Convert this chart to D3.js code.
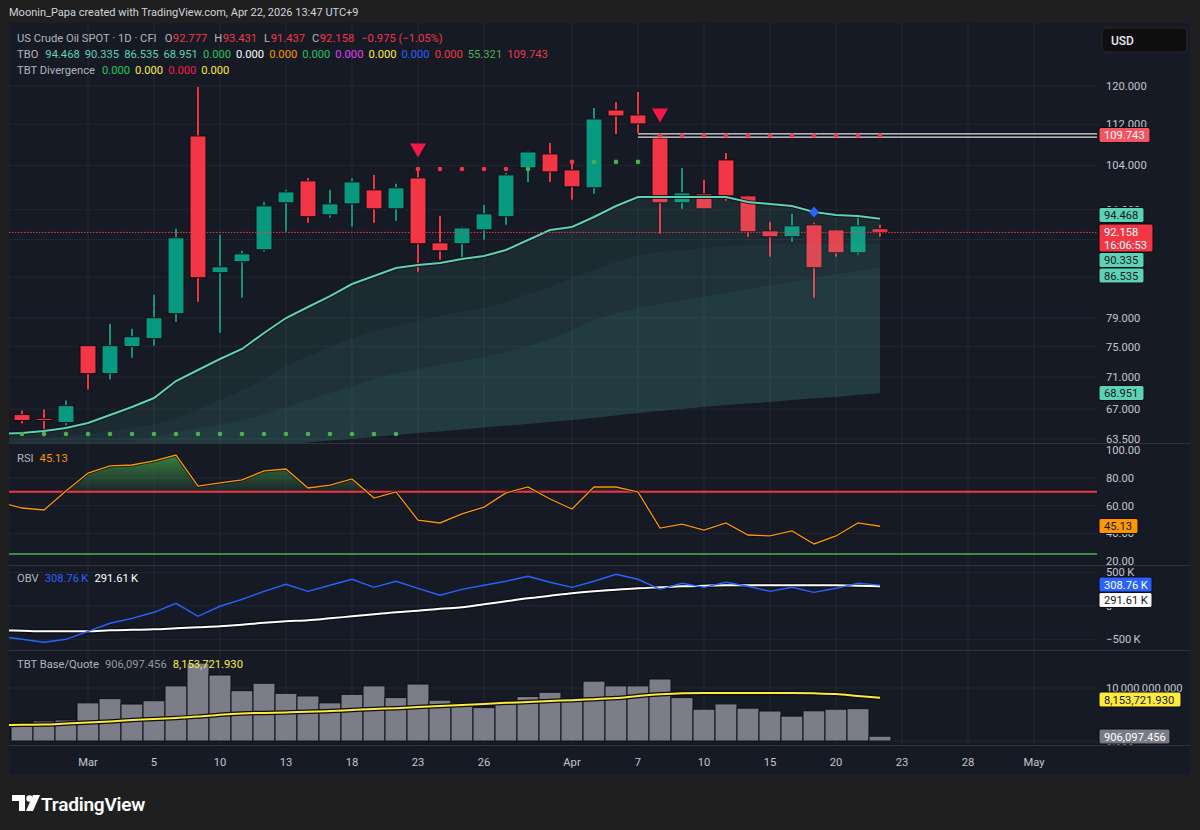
<!DOCTYPE html>
<html><head><meta charset="utf-8">
<script src="https://cdn.jsdelivr.net/npm/d3@7"></script>
<style>html,body{margin:0;padding:0;background:#1f1f1f;}svg{display:block}</style>
</head><body>
<svg id="c" width="1200" height="830"></svg>
<script>
// ---------------- DATA ----------------
const dates = ["2026-02-24","2026-02-25","2026-02-26","2026-02-27","2026-03-02","2026-03-03","2026-03-04","2026-03-05","2026-03-06",
"2026-03-09","2026-03-10","2026-03-11","2026-03-12","2026-03-13","2026-03-16","2026-03-17","2026-03-18","2026-03-19","2026-03-20",
"2026-03-23","2026-03-24","2026-03-25","2026-03-26","2026-03-27","2026-03-30","2026-03-31","2026-04-01","2026-04-02",
"2026-04-06","2026-04-07","2026-04-08","2026-04-09","2026-04-10","2026-04-13","2026-04-14","2026-04-15","2026-04-16","2026-04-17",
"2026-04-20","2026-04-21","2026-04-22"];
const futureDates = ["2026-04-23","2026-04-24","2026-04-27","2026-04-28","2026-04-29","2026-04-30","2026-05-01","2026-05-04","2026-05-05","2026-05-06"];

const openP  = [null,66.36,65.88,65.41,75.14,71.44,75.00,76.09,79.60,109.67,85.69,87.41,89.31,97.21,101.14,95.13,97.03,99.51,96.16,101.68,90.45,90.29,92.59,94.79,103.53,106.17,103.15,99.87,114.93,113.90,109.87,97.21,98.80,105.03,98.44,92.42,91.44,93.43,92.59,88.83,92.777];
const highP  = [null,66.84,66.96,68.05,75.20,78.18,77.47,82.37,92.76,119.78,91.76,89.15,97.38,99.51,101.68,99.51,101.68,102.23,100.59,103.53,94.96,93.09,96.86,102.60,106.74,108.30,104.65,115.34,116.60,118.71,110.26,103.53,101.32,106.36,98.60,93.94,95.30,93.77,92.70,95.13,93.431];
const lowP   = [null,65.29,63.78,65.06,69.42,70.68,73.53,75.14,78.46,81.34,76.91,81.92,88.99,92.26,93.77,94.62,93.09,93.77,94.11,85.85,87.73,88.04,90.94,93.43,100.95,100.95,97.73,98.80,110.06,110.26,91.93,96.16,96.16,97.56,91.44,88.20,90.62,81.92,88.20,88.52,91.437];
const closeP = [null,65.65,65.65,67.44,71.44,75.14,76.36,79.02,91.27,84.92,86.62,88.67,96.68,99.15,94.79,97.03,100.95,96.16,99.87,90.29,89.15,92.92,95.30,102.23,106.55,102.78,100.05,113.08,113.69,112.07,97.21,98.97,96.16,98.44,92.26,91.44,93.26,86.47,88.83,93.26,92.158];

const tboFast = [64.07,64.19,64.42,64.77,65.36,66.31,67.27,68.37,70.50,71.91,73.35,74.69,76.87,78.98,80.56,82.17,83.97,85.19,86.43,86.90,87.22,87.85,88.32,89.28,90.91,92.56,93.06,94.76,96.65,98.23,98.23,98.23,98.23,98.23,97.35,97.00,96.65,95.62,95.10,94.93,94.468];
const tboMid  = [63.39,63.50,63.61,63.84,64.07,64.42,64.77,65.24,65.95,66.91,68.13,69.37,70.75,72.43,73.75,74.96,76.18,77.15,77.85,78.56,79.26,79.84,80.42,81.29,82.47,83.52,84.88,86.12,87.37,88.48,88.96,89.28,89.61,89.93,90.09,90.17,90.25,90.25,90.33,90.33,90.335];
const tboSlow = [60.25,60.48,60.92,61.47,62.03,62.59,63.16,63.73,64.31,64.77,65.12,65.71,66.43,67.27,68.13,68.99,69.87,70.75,71.52,72.04,72.56,73.09,73.62,74.29,75.09,76.05,77.29,78.70,79.70,80.42,81.00,81.59,82.03,82.62,83.22,83.82,84.28,84.88,85.50,85.97,86.535];
const tboBase = [60.16,60.37,60.59,60.81,61.03,61.25,61.47,61.69,61.92,62.14,62.36,62.53,62.70,62.87,63.10,63.33,63.50,63.73,63.96,64.19,64.36,64.60,64.83,65.06,65.24,65.48,65.71,65.95,66.25,66.55,66.79,67.03,67.27,67.51,67.70,67.88,68.13,68.31,68.49,68.74,68.951];

const stopLevel = [null,64.07,64.07,64.07,64.07,64.07,64.07,64.07,64.07,64.07,64.07,64.07,64.07,64.07,64.07,64.07,64.07,64.07,64.07,
103.33,103.33,103.33,103.33,103.33,103.33,103.33,104.65,104.65,104.65,104.65,109.743,109.743,109.743,109.743,109.743,109.743,109.743,109.743,109.743,109.743,109.743];
const stopSide = [null,"L","L","L","L","L","L","L","L","L","L","L","L","L","L","L","L","L","L",
"S","S","S","S","S","L","S","S","L","L","L","S","S","S","S","S","S","S","S","S","S","S"];
const sellSignalDates = ["2026-03-23","2026-04-08"];
const diamondDates = ["2026-04-17"];
const resistanceLevel = 109.743;
const resistanceStart = "2026-04-07";

const rsi = [62.4,58.3,56.9,70.6,83.6,88.7,89.4,92.3,96.6,74.2,76.4,78.6,85.1,86.5,72.8,74.9,79.3,65.5,69.9,49.6,47.5,54.0,59.0,69.2,73.5,64.8,57.6,73.5,73.5,69.9,43.8,46.7,42.4,47.5,38.8,38.1,41.7,32.3,38.1,47.5,45.13];
const rsiUpper = 70, rsiLower = 25;

const obvK   = [-455,-500,-545,-500,-381,-261,-187,-97,37,-157,-7,97,216,321,216,306,396,276,366,261,157,246,306,366,440,351,276,366,470,396,246,336,276,351,291,216,276,201,261,336,308.76];
const obvMAK = [-366,-373,-381,-381,-381,-366,-358,-351,-336,-321,-306,-284,-254,-231,-216,-187,-157,-127,-97,-75,-45,-22,22,67,112,149,187,216,239,261,276,291,299,306,306,306,306,306,306,299,291.61];

const volumeM   = [null,3.45,3.77,3.96,7.2,8.0,6.98,7.6,10.4,14.7,12.45,9.5,10.9,9.0,8.5,7.2,8.8,10.4,8.2,10.75,7.7,7.3,6.3,7.4,8.4,9.2,7.9,11.3,10.4,10.4,11.7,8.2,6.0,7.0,6.2,5.66,4.7,5.7,6.0,6.1,0.906097456];
const volumeMAM = [3.0,3.05,3.1,3.3,3.5,3.7,3.96,4.15,4.34,4.6,4.96,5.2,5.3,5.4,5.5,5.66,5.85,6.04,6.2,6.4,6.6,6.8,7.0,7.2,7.36,7.55,7.7,7.9,8.1,8.5,8.8,9.0,9.05,9.05,9.05,9.05,9.05,9.0,8.87,8.5,8.153721930];

const priceTicks = [120,112,104,96,91,85,79,75,71,67,63.5];
const rsiTicks = [100,80,60,40,20];
const obvTicks = [500,0,-500];
const volTicks = [10,0];
const timeTickDates  = ["2026-03-02","2026-03-05","2026-03-10","2026-03-13","2026-03-18","2026-03-23","2026-03-26","2026-04-01","2026-04-07","2026-04-10","2026-04-15","2026-04-20","2026-04-23","2026-04-28","2026-05-01"];
const timeTickLabels = ["Mar","5","10","13","18","23","26","Apr","7","10","15","20","23","28","May"];

const tboLegendValues = ["94.468","90.335","86.535","68.951","0.000","0.000","0.000","0.000","0.000","0.000","0.000","0.000","55.321","109.743"];
const divLegendValues = ["0.000","0.000","0.000","0.000"];

// ---------------- STYLE ----------------
const FONT = 'Roboto, "Noto Sans", sans-serif';
const FS = 11.2;
const BG = "#161a25", FRAME = "#1f1f1f", GRID = "#222632", SEP = "#2f333e";
const UP = "#089981", DN = "#f23645", TEAL = "#5dd3b6", AX = "#c3c6cd", LEG = "#b2b5be";
const tboLegendColors = [TEAL,TEAL,TEAL,TEAL,"#22c55e","#ffffff","#ff9800","#22c55e","#e040fb","#ffeb3b","#2962ff","#f23645","#4caf50","#f23645"];
const divLegendColors = ["#22c55e","#ffeb3b","#f7174b","#ffeb3b"];

const PL = 9, PR = 1097, AXR = 1190;
const P = {top:23, bot:443}, R = {top:443, bot:565}, O = {top:565, bot:650}, V = {top:650, bot:745};

const svg = d3.select("#c").attr("font-family", FONT);
const defs = svg.append("defs");

svg.append("rect").attr("width",1200).attr("height",830).attr("fill",FRAME);
svg.append("rect").attr("x",PL).attr("y",P.top).attr("width",AXR-PL).attr("height",775-P.top).attr("fill",BG);

// scales
const allDates = dates.concat(futureDates);
const x = d3.scalePoint().domain(allDates).range([0, 22*(allDates.length-1)]);
const yP = d3.scaleLog().domain([63.5,120]).range([439,86]);
const yR = d3.scaleLinear().domain([20,80]).range([561,478]);
const yO = d3.scaleLinear().domain([-500,500]).range([639.3,572.3]);
const yV = d3.scaleLinear().domain([0,10]).range([741,688]);
const idx = d3.range(dates.length);

function clip(id, top, bot){
  defs.append("clipPath").attr("id",id).append("rect").attr("x",PL).attr("y",top).attr("width",PR-PL).attr("height",bot-top);
}
clip("cp",P.top,P.bot); clip("cr",R.top,R.bot); clip("co",O.top,O.bot); clip("cv",V.top,V.bot);

// grid
const gGrid = svg.append("g");
timeTickDates.forEach(d=>{
  gGrid.append("line").attr("x1",x(d)).attr("x2",x(d)).attr("y1",P.top).attr("y2",V.bot).attr("stroke",GRID);
});
priceTicks.forEach(t=>gGrid.append("line").attr("x1",PL).attr("x2",PR).attr("y1",yP(t)).attr("y2",yP(t)).attr("stroke",GRID));
[80,60,40].forEach(t=>gGrid.append("line").attr("x1",PL).attr("x2",PR).attr("y1",yR(t)).attr("y2",yR(t)).attr("stroke",GRID));
obvTicks.forEach(t=>gGrid.append("line").attr("x1",PL).attr("x2",PR).attr("y1",yO(t)).attr("y2",yO(t)).attr("stroke",GRID));
volTicks.forEach(t=>gGrid.append("line").attr("x1",PL).attr("x2",PR).attr("y1",yV(t)).attr("y2",yV(t)).attr("stroke",GRID));

// ---------------- PRICE PANE ----------------
const gP = svg.append("g").attr("clip-path","url(#cp)");
idx.filter(i=>openP[i]!=null).forEach(i=>{
  const cx = x(dates[i]), up = closeP[i] >= openP[i], col = up ? UP : DN;
  gP.append("line").attr("x1",cx).attr("x2",cx).attr("y1",yP(highP[i])).attr("y2",yP(lowP[i])).attr("stroke","#0b0d13").attr("stroke-width",3.5).attr("opacity",0.7);
  gP.append("line").attr("x1",cx).attr("x2",cx).attr("y1",yP(highP[i])).attr("y2",yP(lowP[i])).attr("stroke",col).attr("stroke-width",2);
  const yt = yP(Math.max(openP[i],closeP[i])), yb = yP(Math.min(openP[i],closeP[i]));
  gP.append("rect").attr("x",cx-8).attr("y",yt).attr("width",16).attr("height",Math.max(1.5,yb-yt))
    .attr("fill",col).attr("stroke","#0b0d13").attr("stroke-width",1);
});
const areaTo = (top)=>d3.area().x(i=>x(dates[i])).y0(i=>yP(tboBase[i])).y1(i=>yP(top[i]));
gP.append("path").attr("d",areaTo(tboFast)(idx)).attr("fill","rgba(92,204,180,0.095)");
gP.append("path").attr("d",areaTo(tboMid)(idx)).attr("fill","rgba(92,204,180,0.055)");
gP.append("path").attr("d",areaTo(tboSlow)(idx)).attr("fill","rgba(92,204,180,0.06)");
const lineFast = d3.line().x(i=>x(dates[i])).y(i=>yP(tboFast[i]));
gP.append("path").attr("d",lineFast(idx)).attr("fill","none").attr("stroke","#0b0d13").attr("stroke-width",4).attr("opacity",0.8);
gP.append("path").attr("d",lineFast(idx)).attr("fill","none").attr("stroke",TEAL).attr("stroke-width",2);
const lastClose = closeP[closeP.length-1];
gP.append("line").attr("x1",PL).attr("x2",PR).attr("y1",yP(lastClose)).attr("y2",yP(lastClose))
  .attr("stroke",DN).attr("stroke-width",1).attr("stroke-dasharray","1.5,1.5");
const yRes = yP(resistanceLevel);
[-1.6,1.6].forEach(o=>{
  gP.append("line").attr("x1",x(resistanceStart)).attr("x2",PR).attr("y1",yRes+o).attr("y2",yRes+o).attr("stroke","#0b0d13").attr("stroke-width",2.6);
  gP.append("line").attr("x1",x(resistanceStart)).attr("x2",PR).attr("y1",yRes+o).attr("y2",yRes+o).attr("stroke","#e8e8e8").attr("stroke-width",1.2);
});
idx.filter(i=>stopLevel[i]!=null).forEach(i=>{
  gP.append("circle").attr("cx",x(dates[i])).attr("cy",yP(stopLevel[i])).attr("r",2.3)
    .attr("fill",stopSide[i]==="L" ? "#4caf50" : "#f23645");
});
sellSignalDates.forEach(d=>{
  const i = dates.indexOf(d), cx = x(d), yb = yP(highP[i]) - 10.5;
  gP.append("path").attr("d",`M${cx-8},${yb-14}L${cx+8},${yb-14}L${cx},${yb}Z`).attr("fill","#f7174b");
});
diamondDates.forEach(d=>{
  const i = dates.indexOf(d), cx = x(d), cy = yP(tboFast[i]);
  gP.append("path").attr("d",`M${cx},${cy-5.5}L${cx+5},${cy}L${cx},${cy+5.5}L${cx-5},${cy}Z`).attr("fill","#2962ff");
});

// ---------------- RSI PANE ----------------
const gR = svg.append("g").attr("clip-path","url(#cr)");
const grad = defs.append("linearGradient").attr("id","rsig").attr("gradientUnits","userSpaceOnUse")
  .attr("x1",0).attr("x2",0).attr("y1",yR(100)).attr("y2",yR(rsiUpper));
grad.append("stop").attr("offset","0%").attr("stop-color","#43a047").attr("stop-opacity",0.85);
grad.append("stop").attr("offset","100%").attr("stop-color","#43a047").attr("stop-opacity",0.08);
defs.append("clipPath").attr("id","rsiAbove").append("rect").attr("x",PL).attr("y",R.top).attr("width",PR-PL).attr("height",yR(rsiUpper)-R.top);
gR.append("path").attr("clip-path","url(#rsiAbove)")
  .attr("d",d3.area().x(i=>x(dates[i])).y0(yR(rsiUpper)).y1(i=>yR(rsi[i]))(idx)).attr("fill","url(#rsig)");
gR.append("line").attr("x1",PL).attr("x2",PR).attr("y1",yR(rsiUpper)).attr("y2",yR(rsiUpper)).attr("stroke","#f23645").attr("stroke-width",2);
gR.append("line").attr("x1",PL).attr("x2",PR).attr("y1",yR(rsiLower)).attr("y2",yR(rsiLower)).attr("stroke","#4caf50").attr("stroke-width",1.5);
const lineR = d3.line().x(i=>x(dates[i])).y(i=>yR(rsi[i]));
gR.append("path").attr("d",lineR(idx)).attr("fill","none").attr("stroke","#0b0d13").attr("stroke-width",3).attr("opacity",0.8);
gR.append("path").attr("d",lineR(idx)).attr("fill","none").attr("stroke","#ff9800").attr("stroke-width",1.3);

// ---------------- OBV PANE ----------------
const gO = svg.append("g").attr("clip-path","url(#co)");
const lineOMA = d3.line().curve(d3.curveMonotoneX).x(i=>x(dates[i])).y(i=>yO(obvMAK[i]));
gO.append("path").attr("d",lineOMA(idx)).attr("fill","none").attr("stroke","#0b0d13").attr("stroke-width",4.5);
gO.append("path").attr("d",lineOMA(idx)).attr("fill","none").attr("stroke","#ffffff").attr("stroke-width",2);
const lineO = d3.line().x(i=>x(dates[i])).y(i=>yO(obvK[i]));
gO.append("path").attr("d",lineO(idx)).attr("fill","none").attr("stroke","#2962ff").attr("stroke-width",1.4);

// ---------------- VOLUME PANE ----------------
const gV = svg.append("g").attr("clip-path","url(#cv)");
idx.filter(i=>volumeM[i]!=null).forEach(i=>{
  const cx = x(dates[i]);
  gV.append("rect").attr("x",cx-11).attr("y",yV(volumeM[i])).attr("width",22).attr("height",yV(0)-yV(volumeM[i]))
    .attr("fill","#7b7e89").attr("stroke","#0e1118").attr("stroke-width",1);
});
const lineVMA = d3.line().curve(d3.curveMonotoneX).x(i=>x(dates[i])).y(i=>yV(volumeMAM[i]));
gV.append("path").attr("d",lineVMA(idx)).attr("fill","none").attr("stroke","#0b0d13").attr("stroke-width",4.5);
gV.append("path").attr("d",lineVMA(idx)).attr("fill","none").attr("stroke","#ffeb3b").attr("stroke-width",2);

[P.bot, R.bot, O.bot, V.bot].forEach(y=>svg.append("line").attr("x1",PL).attr("x2",AXR).attr("y1",y+0.5).attr("y2",y+0.5).attr("stroke",SEP));

// ---------------- AXES ----------------
const fmt3 = d3.format(".3f");
const boxes = [
  {y:135,   lines:[fmt3(resistanceLevel)], bg:"#f7525f", fg:"#ffffff", w:51, h:15},
  {y:215,   lines:[fmt3(tboFast[40])], bg:TEAL, fg:"#131722", w:45, h:15},
  {y:238,   lines:[fmt3(lastClose), "16:06:53"], bg:"#f23645", fg:"#ffffff", w:54, h:28},
  {y:260,   lines:[fmt3(tboMid[40])], bg:TEAL, fg:"#131722", w:45, h:15},
  {y:275.5, lines:[fmt3(tboSlow[40])], bg:TEAL, fg:"#131722", w:45, h:15},
  {y:393,   lines:[fmt3(tboBase[40])], bg:TEAL, fg:"#131722", w:45, h:15},
  {y:526,   lines:[d3.format(".2f")(rsi[40])], bg:"#ff9800", fg:"#131722", w:39, h:15},
  {y:584.5, lines:[d3.format(".2f")(obvK[40])+"\u2009K"], bg:"#2962ff", fg:"#ffffff", w:53, h:15},
  {y:600,   lines:[d3.format(".2f")(obvMAK[40])+"\u2009K"], bg:"#ffffff", fg:"#131722", w:53, h:15},
  {y:699.5, lines:[d3.format(",.3f")(volumeMAM[40]*1e6)], bg:"#ffeb3b", fg:"#131722", w:82, h:15},
  {y:736.5, lines:[d3.format(",.3f")(volumeM[40]*1e6)], bg:"#787b86", fg:"#ffffff", w:71, h:15}
];
const covered = y => boxes.some(b => y-4 >= b.y-b.h/2 && y+4 <= b.y+b.h/2);

const gA = svg.append("g").attr("font-size",FS).attr("fill",AX);
const AXX = 1106;
function axLabel(y, t){ if(!covered(y)) gA.append("text").attr("x",AXX).attr("y",y+4).text(t); }
priceTicks.forEach(t=>axLabel(yP(t), fmt3(t)));
rsiTicks.forEach(t=>axLabel(yR(t), d3.format(".2f")(t)));
obvTicks.forEach(t=>axLabel(yO(t), t===0 ? "0" : (t<0?"\u2212":"")+Math.abs(t)+"\u2009K"));
volTicks.forEach(t=>axLabel(yV(t), d3.format(",.3f")(t*1e6)));
timeTickDates.forEach((d,k)=>{
  gA.append("text").attr("x",x(d)).attr("y",766).attr("text-anchor","middle").text(timeTickLabels[k]);
});

boxes.forEach(b=>{
  const g = svg.append("g");
  g.append("rect").attr("x",1099).attr("y",b.y-b.h/2).attr("width",b.w).attr("height",b.h).attr("rx",2).attr("fill",b.bg)
    .attr("stroke","#0b0d13").attr("stroke-width",1);
  b.lines.forEach((t,k)=>g.append("text").attr("x",1104).attr("y",b.y - b.h/2 + 11.5 + k*13).attr("font-size",FS).attr("fill",b.fg).text(t));
});

// USD box
svg.append("rect").attr("x",1102).attr("y",28).attr("width",85).attr("height",24).attr("rx",4).attr("fill","#0f0f10").attr("stroke","#2a2a2c");
svg.append("text").attr("x",1111).attr("y",44.5).attr("font-size",12).attr("font-weight",500).attr("fill","#e8e8ea").text("USD");

// ---------------- LEGENDS ----------------
function tokens(y, x0, items, size){
  let cx = x0;
  items.forEach(it=>{
    const t = svg.append("text").attr("x",cx).attr("y",y).attr("font-size",size).attr("fill",it.c).text(it.t);
    cx += t.node().getComputedTextLength() + it.g;
  });
}
svg.append("text").attr("x",9).attr("y",16).attr("font-size",11).attr("fill","#d1d4dc")
  .text("Moonin_Papa created with TradingView.com, Apr 22, 2026 13:47 UTC+9");
tokens(42, 17, [
  {t:"US Crude Oil SPOT \u00b7 1D \u00b7 CFI", c:LEG, g:8},
  {t:"O", c:LEG, g:0.5},{t:fmt3(openP[40]), c:DN, g:7},
  {t:"H", c:LEG, g:0.5},{t:fmt3(highP[40]), c:DN, g:7},
  {t:"L", c:LEG, g:0.5},{t:fmt3(lowP[40]), c:DN, g:7},
  {t:"C", c:LEG, g:0.5},{t:fmt3(closeP[40]), c:DN, g:7},
  {t:"\u22120.975 (\u22121.05%)", c:DN, g:0}
], FS);
tokens(58, 17, [{t:"TBO", c:LEG, g:7}].concat(tboLegendValues.map((v,k)=>({t:v, c:tboLegendColors[k], g:5}))), FS);
tokens(74, 17, [{t:"TBT Divergence", c:LEG, g:7}].concat(divLegendValues.map((v,k)=>({t:v, c:divLegendColors[k], g:5}))), FS);
tokens(462, 17, [{t:"RSI", c:LEG, g:6},{t:d3.format(".2f")(rsi[40]), c:"#ff9800", g:0}], FS);
tokens(582, 17, [{t:"OBV", c:LEG, g:6},{t:"308.76\u2009K", c:"#2962ff", g:6},{t:"291.61\u2009K", c:"#ffffff", g:0}], FS);
tokens(668, 17, [{t:"TBT Base/Quote", c:LEG, g:6},{t:d3.format(",.3f")(volumeM[40]*1e6), c:"#9598a1", g:6},{t:d3.format(",.3f")(volumeMAM[40]*1e6), c:"#ffeb3b", g:0}], FS);

// ---------------- FOOTER LOGO ----------------
const gL = svg.append("g").attr("fill","#ffffff");
gL.append("path").attr("d","M12,795h13v16h-6v-10h-7z");
gL.append("circle").attr("cx",29.5).attr("cy",798.5).attr("r",3.2);
gL.append("path").attr("d","M33,795h7l-7,16h-7z");
gL.append("text").attr("x",41).attr("y",810.5).attr("font-size",19).attr("font-weight",600).attr("letter-spacing",-0.2).text("TradingView");
</script>
</body></html>
